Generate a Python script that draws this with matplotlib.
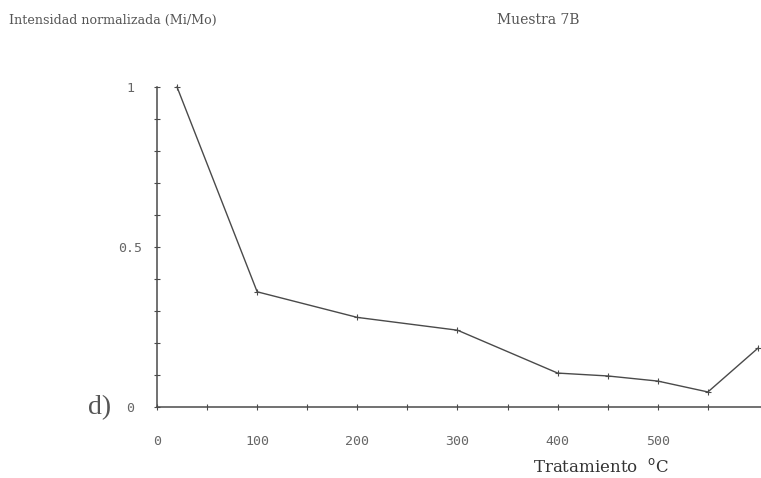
import numpy as np
import matplotlib.pyplot as plt

# Tratamiento térmico (°C) e intensidad normalizada Mi/Mo, muestra 7B
temperatura = [20, 100, 200, 300, 400, 450, 500, 550, 600]
intensidad = [1.0, 0.36, 0.28, 0.24, 0.106, 0.097, 0.081, 0.047, 0.184]

x_ticks_major = [0, 100, 200, 300, 400, 500]
y_ticks_major = [0, 0.5, 1]
y_labels = ["0", "0.5", "1"]

gris = "#4a4a4a"

fig = plt.figure(figsize=(7.61, 4.78), dpi=100)
ax = fig.add_axes([157 / 761, 71 / 478, 604 / 761, 320 / 478])

ax.plot(temperatura, intensidad, color=gris, lw=1.0, marker="+", ms=5,
        mew=0.8, clip_on=False)

ax.set_xlim(0, 603)
ax.set_ylim(0, 1)

for s in ["top", "right"]:
    ax.spines[s].set_visible(False)
for s in ["left", "bottom"]:
    ax.spines[s].set_color(gris)
    ax.spines[s].set_linewidth(1.1)

ax.set_xticks(x_ticks_major)
ax.set_xticks(np.arange(50, 601, 100), minor=True)
ax.set_yticks(y_ticks_major, labels=y_labels)
ax.set_yticks(np.arange(0.1, 1.0, 0.1), minor=True)

ax.tick_params(axis="both", which="both", direction="inout", length=5,
               width=0.8, color=gris, labelcolor="#666666")
ax.tick_params(axis="x", which="major", pad=18)
ax.tick_params(axis="y", which="major", pad=17)
for lab in ax.get_xticklabels() + ax.get_yticklabels():
    lab.set_fontfamily("DejaVu Sans Mono")
    lab.set_fontsize(9.5)
for lab in ax.get_yticklabels():
    lab.set_ha("center")

fig.text(9 / 761, 1 - 20 / 478, "Intensidad normalizada (Mi/Mo)",
         family="DejaVu Serif", fontsize=9.1, color="#555555",
         va="center", ha="left")
fig.text(497 / 761, 1 - 20 / 478, "Muestra 7B",
         family="DejaVu Serif", fontsize=10, color="#555555",
         va="center", ha="left")
fig.text(88 / 761, 1 - 408 / 478, "d)", family="Liberation Serif",
         fontsize=20, color="#555555", va="center", ha="left")
fig.text(533 / 761, 1 - 467 / 478, r"Tratamiento  $^{\mathrm{o}}$C",
         family="DejaVu Serif", fontsize=12, color="#333333",
         va="center", ha="left")

fig.savefig("out.png", dpi=100)
